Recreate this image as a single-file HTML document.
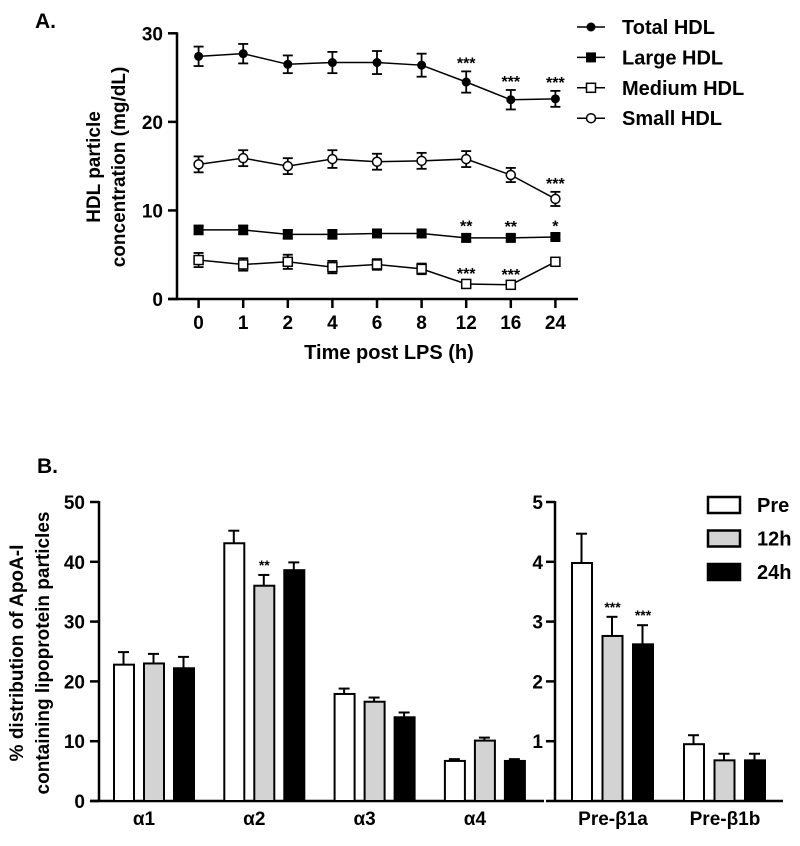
<!DOCTYPE html>
<html><head><meta charset="utf-8"><style>
body{margin:0;background:#fff}
svg{display:block;font-family:"Liberation Sans",Arial,sans-serif;font-weight:bold}
</style></head><body>
<svg id="c" width="800" height="846" viewBox="0 0 800 846" xmlns="http://www.w3.org/2000/svg"></svg>
<script>
// ---- Panel A data ----
const timeLabels = ["0","1","2","4","6","8","12","16","24"];
const totalHDL = [27.4,27.7,26.5,26.7,26.7,26.4,24.5,22.5,22.6];
const totalErr = [1.1,1.1,1.0,1.2,1.3,1.3,1.2,1.1,0.9];
const largeHDL = [7.8,7.8,7.3,7.3,7.4,7.4,6.9,6.9,7.0];
const largeErr = [0.5,0.5,0.5,0.5,0.4,0.4,0.4,0.3,0.3];
const mediumHDL = [4.4,3.9,4.2,3.6,3.9,3.4,1.7,1.6,4.2];
const mediumErr = [0.8,0.7,0.8,0.7,0.6,0.6,0.2,0.2,0.3];
const smallHDL = [15.2,15.9,15.0,15.8,15.5,15.6,15.8,14.0,11.3];
const smallErr = [0.9,0.9,0.9,1.0,0.9,0.9,0.9,0.8,0.8];
const starsTotal = ["","","","","","","***","***","***"];
const starsSmall = ["","","","","","","","","***"];
const starsLarge = ["","","","","","","**","**","*"];
const starsMedium = ["","","","","","","***","***",""];
const aTicks = [0,10,20,30];
// ---- Panel B data ----
const alphaCats = ["α1","α2","α3","α4"];
const alphaPre = [22.8,43.1,17.9,6.7];
const alphaPreErr = [2.1,2.1,0.9,0.3];
const alpha12 = [23.0,36.0,16.6,10.1];
const alpha12Err = [1.6,1.8,0.7,0.5];
const alpha24 = [22.2,38.6,14.0,6.7];
const alpha24Err = [1.9,1.3,0.8,0.3];
const alphaStars12 = ["","**","",""];
const betaCats = ["Pre-β1a","Pre-β1b"];
const betaPre = [3.98,0.95];
const betaPreErr = [0.49,0.15];
const beta12 = [2.76,0.68];
const beta12Err = [0.32,0.11];
const beta24 = [2.62,0.68];
const beta24Err = [0.32,0.11];
const betaStars = [["","***","***"],["","",""]];
const bLeftTicks = [0,10,20,30,40,50];
const bRightTicks = [1,2,3,4,5];

const svg=document.getElementById('c');
const NS="http://www.w3.org/2000/svg";
function el(tag,attrs,parent,text){const e=document.createElementNS(NS,tag);for(const k in attrs)e.setAttribute(k,attrs[k]);if(text!==undefined)e.textContent=text;(parent||svg).appendChild(e);return e;}

// ---- Panel A ----
const ax=i=>198.6+i*44.6;
const ay=v=>299-v*(299-33.3)/30;
const gA=el('g',{});


let t=el('text',{x:35,y:28,'font-size':21},gA,'A.');

el('line',{x1:177,y1:ay(30)-1,x2:177,y2:ay(0)+1.2,stroke:'#000','stroke-width':2.5},gA);
el('line',{x1:168,y1:ay(0),x2:578,y2:ay(0),stroke:'#000','stroke-width':2.5},gA);
aTicks.forEach(v=>{el('line',{x1:168,y1:ay(v),x2:177,y2:ay(v),stroke:'#000','stroke-width':2.5},gA);
 const tt=el('text',{x:163,y:ay(v)+7,'font-size':19,'text-anchor':'end'},gA,String(v));
 });
timeLabels.forEach((l,i)=>{el('line',{x1:ax(i),y1:ay(0),x2:ax(i),y2:ay(0)+9,stroke:'#000','stroke-width':2.5},gA);
 const tt=el('text',{x:ax(i),y:329,'font-size':19,'text-anchor':'middle'},gA,l);
 });
t=el('text',{x:389,y:359,'font-size':20,'text-anchor':'middle'},gA,'Time post LPS (h)');

t=el('text',{transform:'translate(100,167) rotate(-90)','font-size':19,'text-anchor':'middle'},gA,'HDL particle');

t=el('text',{transform:'translate(125,167) rotate(-90)','font-size':19,'text-anchor':'middle'},gA,'concentration (mg/dL)');


function marker(g,type,x,y){
 if(type==='fc')el('circle',{cx:x,cy:y,r:4.5,fill:'#000'},g);
 else if(type==='oc')el('circle',{cx:x,cy:y,r:4.5,fill:'#fff',stroke:'#000','stroke-width':1.5},g);
 else if(type==='fs')el('rect',{x:x-5,y:y-5,width:10,height:10,fill:'#000'},g);
 else el('rect',{x:x-4.5,y:y-4.5,width:9,height:9,fill:'#fff',stroke:'#000','stroke-width':1.5},g);
}
function series(name,vals,errs,stars,type){
 const g=el('g',{},gA);
 
 el('polyline',{points:vals.map((v,i)=>ax(i)+','+ay(v)).join(' '),fill:'none',stroke:'#000','stroke-width':1.5},g);
 vals.forEach((v,i)=>{const e=errs[i];
  el('line',{x1:ax(i),y1:ay(v+e),x2:ax(i),y2:ay(v-e),stroke:'#000','stroke-width':1.8},g);
  el('line',{x1:ax(i)-5,y1:ay(v+e),x2:ax(i)+5,y2:ay(v+e),stroke:'#000','stroke-width':1.8},g);
  el('line',{x1:ax(i)-5,y1:ay(v-e),x2:ax(i)+5,y2:ay(v-e),stroke:'#000','stroke-width':1.8},g);
  marker(g,type,ax(i),ay(v));
  if(stars[i]){const s=el('text',{x:ax(i),y:ay(v+e)-3,'font-size':16,'text-anchor':'middle'},g,stars[i]);
   }
 });
}
series('total-hdl-series',totalHDL,totalErr,starsTotal,'fc');
series('small-hdl-series',smallHDL,smallErr,starsSmall,'oc');
series('large-hdl-series',largeHDL,largeErr,starsLarge,'fs');
series('medium-hdl-series',mediumHDL,mediumErr,starsMedium,'os');
[['Total HDL','fc'],['Large HDL','fs'],['Medium HDL','os'],['Small HDL','oc']].forEach((r,i)=>{
 const y=27+i*30.4;const g=el('g',{},gA);
 
 el('line',{x1:577,y1:y,x2:605,y2:y,stroke:'#000','stroke-width':1.5},g);
 marker(g,r[1],591,y);
 el('text',{x:622,y:y+7,'font-size':20},g,r[0]);
});

// ---- Panel B ----
const gB=el('g',{});

t=el('text',{x:37,y:473,'font-size':21},gB,'B.');

const by0=801,by1=502;
const byL=v=>by0-v*(by0-by1)/50;
const byR=v=>by0-v*(by0-by1)/5;
el('line',{x1:99,y1:by1-1,x2:99,y2:by0+1,stroke:'#000','stroke-width':2.5},gB);
el('line',{x1:90,y1:by0,x2:544,y2:by0,stroke:'#000','stroke-width':2.5},gB);
el('line',{x1:555,y1:by1-1,x2:555,y2:by0+1,stroke:'#000','stroke-width':2.5},gB);
el('line',{x1:546,y1:by0,x2:783,y2:by0,stroke:'#000','stroke-width':2.5},gB);
bLeftTicks.forEach(v=>{el('line',{x1:90,y1:byL(v),x2:99,y2:byL(v),stroke:'#000','stroke-width':2.5},gB);
 const tt=el('text',{x:85,y:byL(v)+7,'font-size':19,'text-anchor':'end'},gB,String(v));
 });
bRightTicks.forEach(v=>{el('line',{x1:546,y1:byR(v),x2:555,y2:byR(v),stroke:'#000','stroke-width':2.5},gB);
 const tt=el('text',{x:543,y:byR(v)+7,'font-size':19,'text-anchor':'end'},gB,String(v));
 });
t=el('text',{transform:'translate(23,653) rotate(-90)','font-size':19,'text-anchor':'middle'},gB,'% distribution of ApoA-I');

t=el('text',{transform:'translate(49,653) rotate(-90)','font-size':19,'text-anchor':'middle'},gB,'containing lipoprotein particles');

const fills=['#fff','#d3d3d3','#000'];
function bar(x,v,e,fill,yf,star){
 const g=el('g',{},gB);
 
 el('line',{x1:x+10.5,y1:yf(v),x2:x+10.5,y2:yf(v+e),stroke:'#000','stroke-width':2},g);
 el('line',{x1:x+5,y1:yf(v+e),x2:x+16,y2:yf(v+e),stroke:'#000','stroke-width':2},g);
 el('rect',{x:x+1,y:yf(v),width:20,height:by0-yf(v),fill:fill,stroke:'#000','stroke-width':2},g);
 if(star){const s=el('text',{x:x+11,y:yf(v+e)-5,'font-size':14,'text-anchor':'middle'},g,star);
  }
}
alphaCats.forEach((c,i)=>{const x0=113+i*110.3;
 bar(x0,alphaPre[i],alphaPreErr[i],fills[0],byL,'');
 bar(x0+30,alpha12[i],alpha12Err[i],fills[1],byL,alphaStars12[i]);
 bar(x0+60,alpha24[i],alpha24Err[i],fills[2],byL,'');
 const tt=el('text',{x:x0+31,y:825,'font-size':19,'text-anchor':'middle'},gB,c);
 });
betaCats.forEach((c,i)=>{const x0=571+i*112;
 bar(x0,betaPre[i],betaPreErr[i],fills[0],byR,betaStars[i][0]);
 bar(x0+30.5,beta12[i],beta12Err[i],fills[1],byR,betaStars[i][1]);
 bar(x0+61,beta24[i],beta24Err[i],fills[2],byR,betaStars[i][2]);
 const tt=el('text',{x:x0+42,y:825,'font-size':19,'text-anchor':'middle'},gB,c);
 });
[['Pre',496],['12h',529.5],['24h',563]].forEach((r,i)=>{
 const g=el('g',{},gB);
 
 el('rect',{x:708,y:r[1]+1,width:32,height:16,fill:fills[i],stroke:'#000','stroke-width':2.5},g);
 el('text',{x:757,y:r[1]+16,'font-size':20},g,r[0]);
});
</script>
</body></html>
